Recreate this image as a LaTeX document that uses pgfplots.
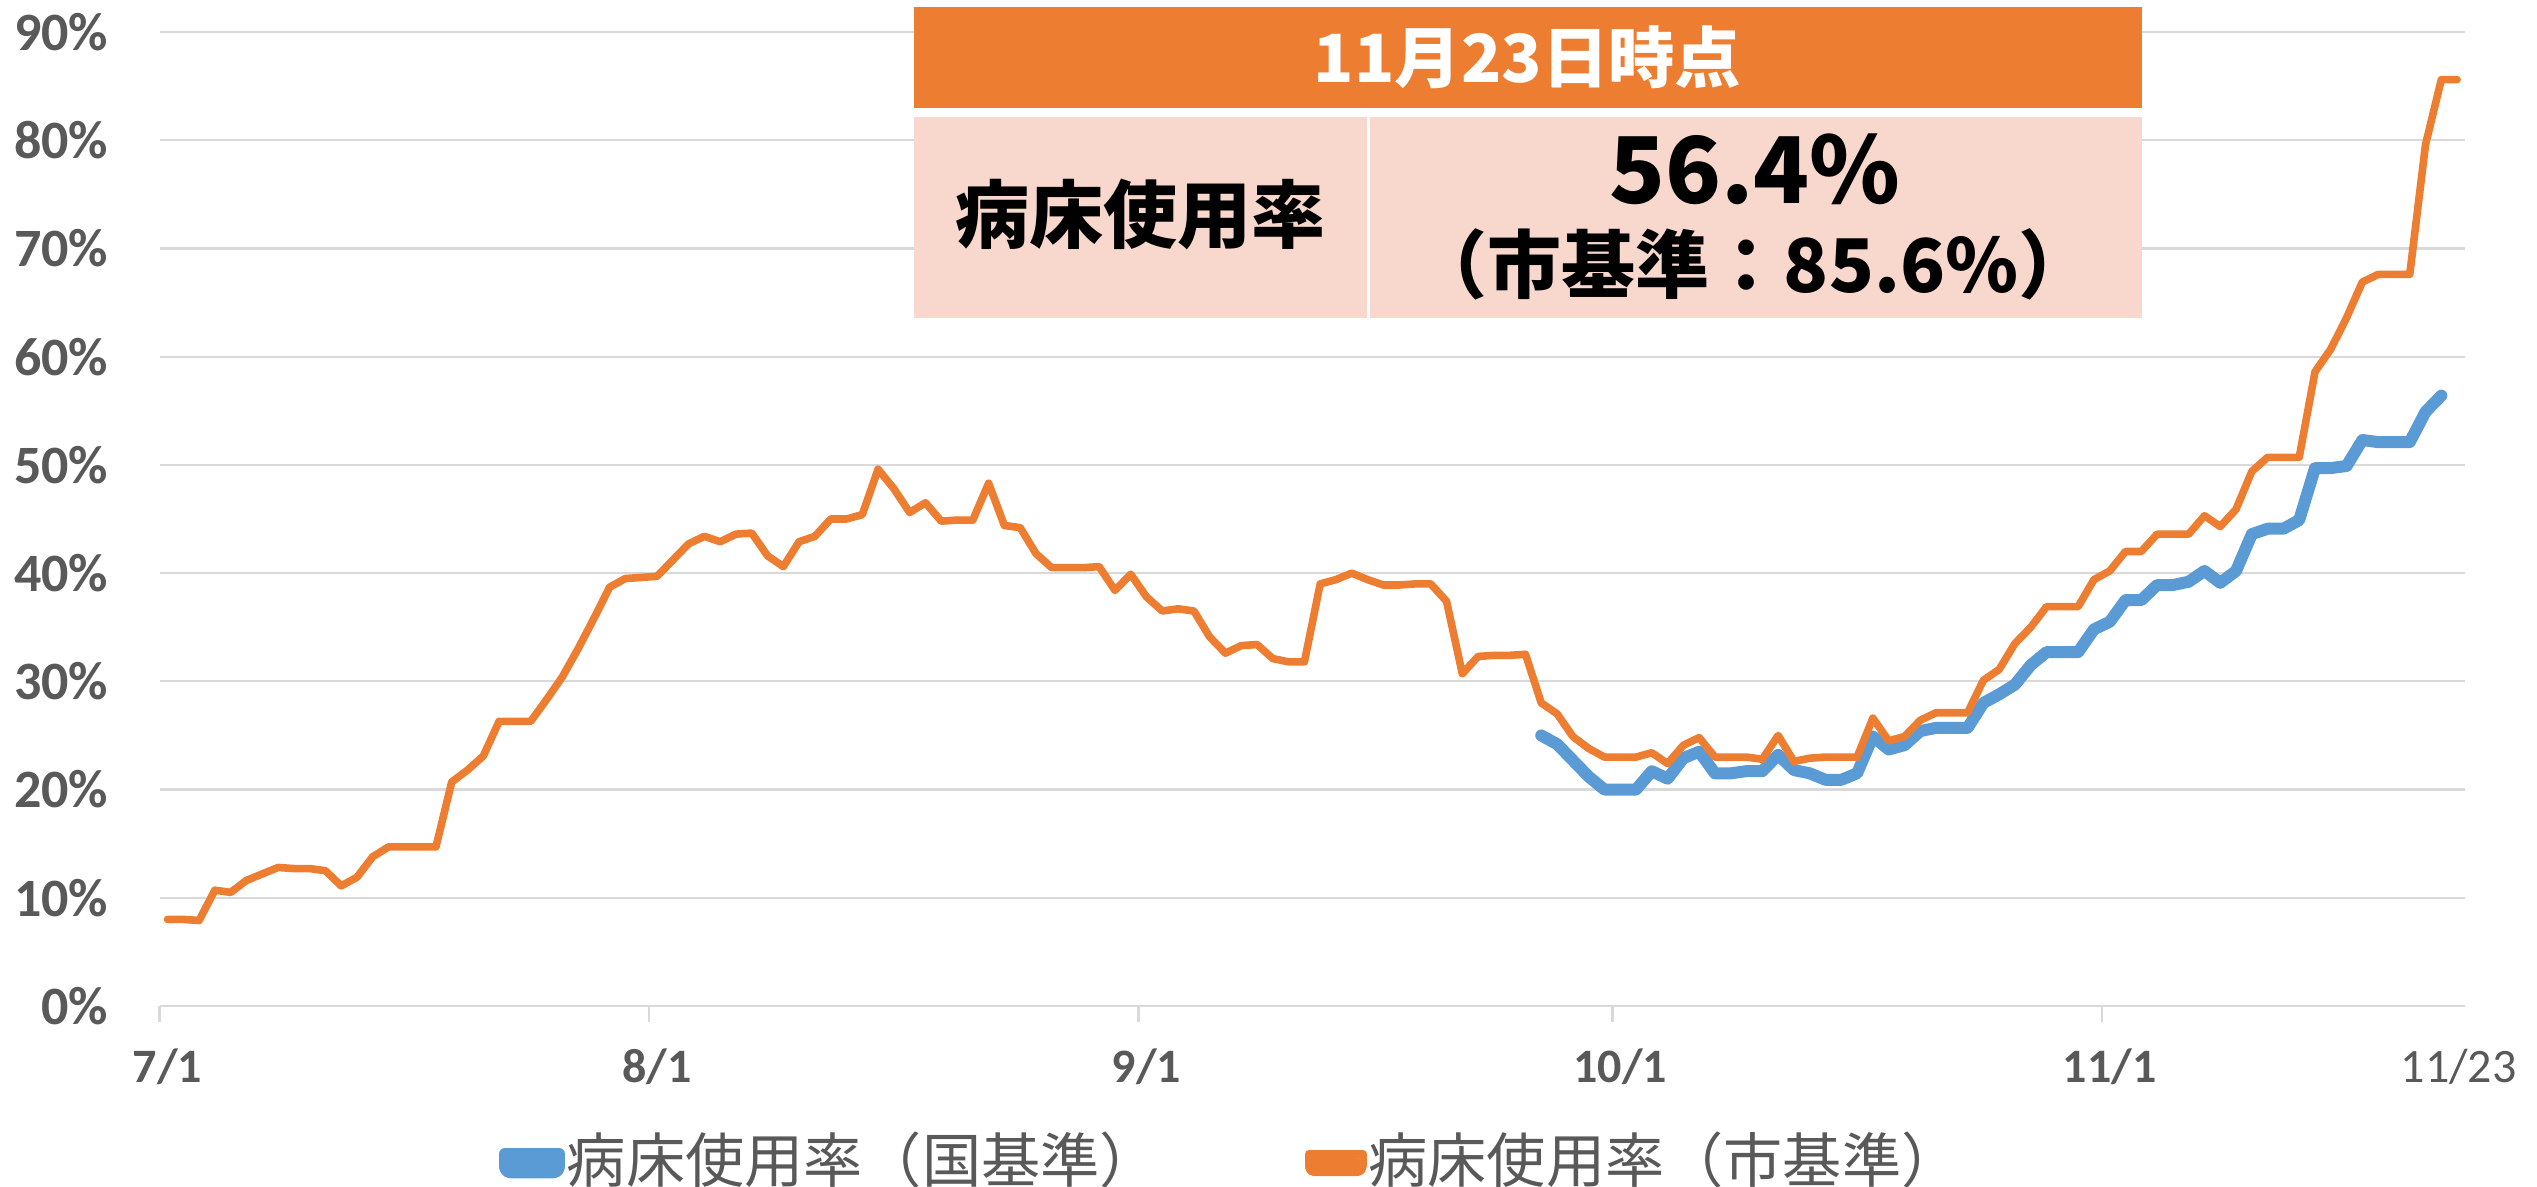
\documentclass[border=0pt]{standalone}
\usepackage{fontspec}
\usepackage{pgfplots}
\usepackage{pgfplotstable}
\pgfplotsset{compat=1.18}
\newfontfamily\carlito{Carlito}
\newfontfamily\jp{Noto Sans CJK JP}
\definecolor{orangeL}{HTML}{ED7D31}
\definecolor{blueL}{HTML}{5B9BD5}
\definecolor{gridgray}{HTML}{D9D9D9}
\definecolor{tickgray}{HTML}{595959}
\definecolor{pinkbox}{HTML}{F8D7CC}

\pgfplotstableread{
d v
0 8.0
1 8.0
2 7.9
3 10.7
4 10.5
5 11.6
6 12.2
7 12.8
8 12.7
9 12.7
10 12.5
11 11.1
12 11.9
13 13.8
14 14.7
15 14.7
16 14.7
17 14.7
18 20.7
19 21.8
20 23.1
21 26.3
22 26.3
23 26.3
24 28.3
25 30.4
26 33.0
27 35.8
28 38.7
29 39.5
30 39.6
31 39.7
32 41.2
33 42.7
34 43.4
35 42.9
36 43.6
37 43.7
38 41.6
39 40.6
40 42.9
41 43.4
42 45.0
43 45.0
44 45.4
45 49.6
46 47.8
47 45.6
48 46.5
49 44.8
50 44.9
51 44.9
52 48.3
53 44.4
54 44.2
55 41.8
56 40.5
57 40.5
58 40.5
59 40.6
60 38.4
61 39.9
62 37.8
63 36.5
64 36.7
65 36.5
66 34.1
67 32.6
68 33.3
69 33.4
70 32.1
71 31.8
72 31.8
73 39.0
74 39.4
75 40.0
76 39.4
77 38.9
78 38.9
79 39.0
80 39.0
81 37.4
82 30.7
83 32.3
84 32.4
85 32.4
86 32.5
87 28.0
88 27.0
89 24.9
90 23.8
91 23.0
92 23.0
93 23.0
94 23.4
95 22.4
96 24.1
97 24.8
98 23.0
99 23.0
100 23.0
101 22.8
102 25.0
103 22.6
104 22.9
105 23.0
106 23.0
107 23.0
108 26.6
109 24.5
110 24.9
111 26.4
112 27.1
113 27.1
114 27.1
115 30.1
116 31.1
117 33.5
118 35.0
119 36.9
120 36.9
121 36.9
122 39.4
123 40.2
124 42.0
125 42.0
126 43.6
127 43.6
128 43.6
129 45.3
130 44.3
131 45.9
132 49.4
133 50.7
134 50.7
135 50.7
136 58.6
137 60.7
138 63.6
139 66.9
140 67.6
141 67.6
142 67.6
143 79.6
144 85.6
145 85.6
}\orangedata

\pgfplotstableread{
d v
87 25.0
88 24.2
89 22.7
90 21.2
91 20.0
92 20.0
93 20.0
94 21.7
95 21.0
96 22.9
97 23.5
98 21.5
99 21.5
100 21.7
101 21.7
102 23.2
103 21.8
104 21.5
105 20.9
106 20.9
107 21.5
108 24.9
109 23.7
110 24.1
111 25.4
112 25.7
113 25.7
114 25.7
115 28.0
116 28.8
117 29.7
118 31.5
119 32.7
120 32.7
121 32.7
122 34.8
123 35.5
124 37.5
125 37.5
126 38.9
127 38.9
128 39.2
129 40.2
130 39.1
131 40.2
132 43.6
133 44.1
134 44.1
135 44.9
136 49.7
137 49.7
138 49.9
139 52.3
140 52.1
141 52.1
142 52.1
143 54.9
144 56.4
}\bluedata

\begin{document}
\begin{tikzpicture}
\useasboundingbox (0,0) rectangle (634.25pt,296.75pt);
\begin{axis}[
  at={(39.9pt,45.25pt)}, anchor=south west,
  scale only axis, width=576.35pt, height=243.5pt,
  xmin=-0.5, xmax=145.5, ymin=0, ymax=90,
  clip=false,
  axis line style={draw=none},
  ytick={0,10,...,90},
  yticklabels={0\%,10\%,20\%,30\%,40\%,50\%,60\%,70\%,80\%,90\%},
  ymajorgrids,
  major grid style={draw=gridgray, line width=0.55pt},
  ytick style={draw=none},
  ytick pos=left,
  xtick={-0.5,30.5,61.5,91.5,122.5},
  xticklabels={,,,,},
  xtick pos=bottom,
  tick align=inside,
  major tick length=4pt,
  xtick style={draw=gridgray, line width=0.6pt, yshift=-4pt},
  extra x ticks={0,31,62,92,123,145.1},
  extra x tick labels={7/1,8/1,9/1,10/1,11/1,{\mdseries 11/23}},
  extra x tick style={major tick length=0pt, grid=none},
  xticklabel style={font=\carlito\bfseries\fontsize{12}{14}\selectfont, text=tickgray, anchor=base, inner sep=0pt},
  xticklabel shift=19.25pt,
  yticklabel style={font=\carlito\bfseries\fontsize{13.5}{16}\selectfont, text=tickgray, anchor=east, inner sep=0pt},
  yticklabel shift=12.65pt,
  legend columns=2,
  legend cell align=left,
  legend style={at={(axis description cs:0.1472,-0.158)}, anchor=west,
    draw=none, fill=none, inner sep=0pt, outer sep=0pt,
    font=\jp\fontsize{14.8}{17}\selectfont, text=tickgray,
    nodes={inner sep=0pt},
    /tikz/every even column/.append style={column sep=36.5pt},
    /tikz/every odd column/.append style={column sep=0.5pt}},
]
\addplot[blueL, line width=3pt, line join=round, line cap=round,
  legend image code/.code={%
    \fill[blueL, rounded corners=1.3pt] (0pt,-3.1pt) rectangle (13.5pt,-0.5pt);
    \path (0pt,-1.5pt) rectangle (13.5pt,1.5pt);}]
  table[x=d,y=v]{\bluedata};
\addlegendentry{病床使用率（国基準）}
\addplot[orangeL, line width=1.9pt, line join=round, line cap=round,
  legend image code/.code={%
    \fill[orangeL, rounded corners=1.3pt] (0pt,-3.1pt) rectangle (13.5pt,-0.5pt);
    \path (0pt,-1.5pt) rectangle (13.5pt,1.5pt);}]
  table[x=d,y=v]{\orangedata};
\addlegendentry{病床使用率（市基準）}
\end{axis}
\fill[orangeL] (228.4pt,269.7pt) rectangle (535.4pt,294.9pt);
\fill[pinkbox] (228.4pt,217.2pt) rectangle (535.4pt,267.6pt);
\draw[white, line width=0.75pt] (342pt,217.2pt) -- (342pt,267.6pt);
\node[anchor=base, text=white, inner sep=0pt, font=\jp\bfseries\fontsize{16.6}{18}\selectfont] at (381.9pt,276.0pt) {11月23日時点};
\node[anchor=base, text=black, inner sep=0pt, font=\jp\bfseries\fontsize{18.5}{20}\selectfont] at (285.2pt,236.2pt) {病床使用率};
\node[anchor=base, text=black, inner sep=0pt, font=\jp\bfseries\fontsize{23}{26}\selectfont] at (438.7pt,245.9pt) {56.4\%};
\node[anchor=base, text=black, inner sep=0pt, font=\jp\bfseries\fontsize{18.5}{20}\selectfont] at (438.25pt,223.5pt) {（市基準：85.6\%）};
\end{tikzpicture}
\end{document}
